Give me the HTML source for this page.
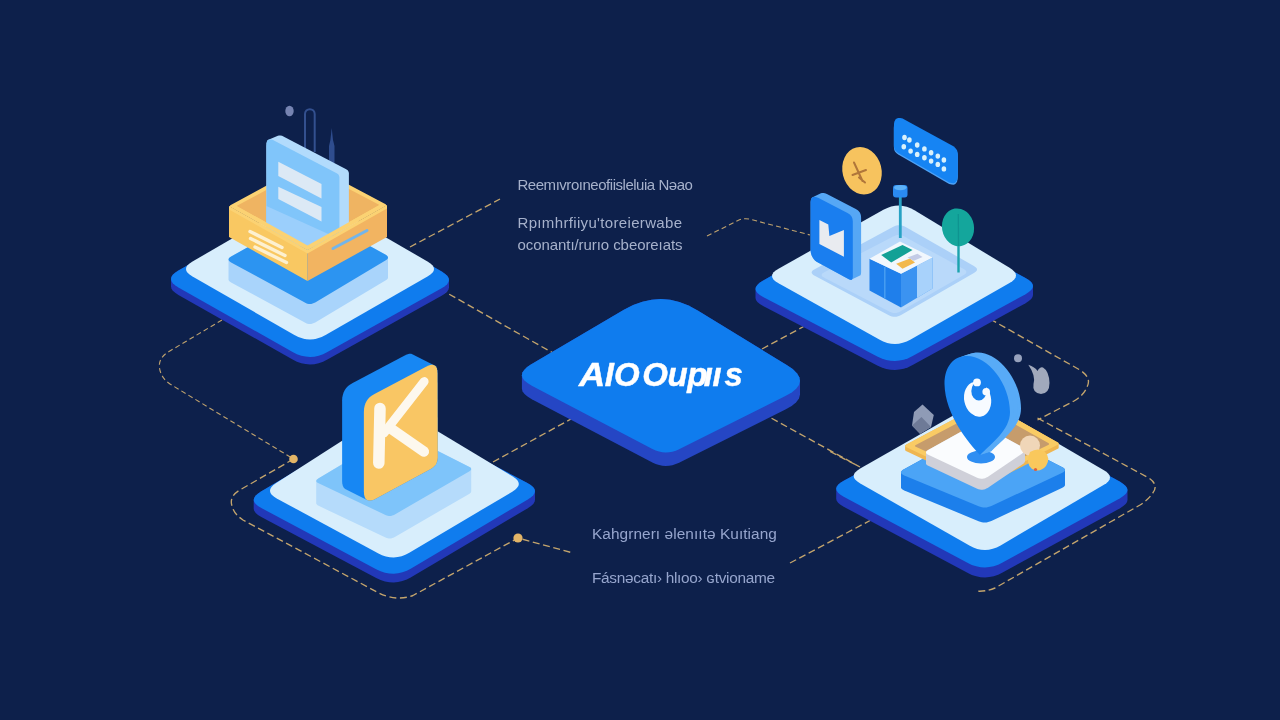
<!DOCTYPE html>
<html><head><meta charset="utf-8"><title>AIO Diagram</title>
<style>
html,body{margin:0;padding:0;background:#0d204b;}
body{width:1280px;height:720px;overflow:hidden;position:relative;font-family:"Liberation Sans",sans-serif;}
svg{position:absolute;left:0;top:0;display:block;filter:blur(0.45px)}
.t{filter:blur(0.35px)}
.t{position:absolute;white-space:nowrap;line-height:1;font-family:"Liberation Sans",sans-serif;}
.lab{font-size:15px;color:#a6b1cb;letter-spacing:-0.2px}
.lab2{font-size:15.4px;color:#96a5cd;letter-spacing:-0.2px}
.ttl{font-size:33px;font-weight:bold;font-style:italic;color:#ffffff;letter-spacing:-0.2px;-webkit-text-stroke:0.45px #ffffff}
</style></head><body>
<svg width="1280" height="720" viewBox="0 0 1280 720">
<rect width="1280" height="720" fill="#0d204b"/>
<path d="M410,247 L500,199" fill="none" stroke="#c4a56d" stroke-width="1.35" stroke-dasharray="7 3.6" stroke-linecap="butt"/>
<path d="M440,289 L553,353" fill="none" stroke="#c4a56d" stroke-width="1.35" stroke-dasharray="7 3.6" stroke-linecap="butt"/>
<path d="M222,320 L169,351.5 Q158,358 159.5,368 Q161,378 170,384 L293.5,459" fill="none" stroke="#bfa26e" stroke-width="1.1" stroke-dasharray="5 3.2"/>
<path d="M293.5,459 L239,490.5 Q229,497 232,506 Q234,514 243,520 L377,592 Q395,602 413,595.5 L518,538 L573,553" fill="none" stroke="#c4a56d" stroke-width="1.35" stroke-dasharray="7 3.6" stroke-linecap="butt"/>
<path d="M493,462 L571,419" fill="none" stroke="#c4a56d" stroke-width="1.35" stroke-dasharray="7 3.6" stroke-linecap="butt"/>
<path d="M762,349 L812,322" fill="none" stroke="#c4a56d" stroke-width="1.35" stroke-dasharray="7 3.6" stroke-linecap="butt"/>
<path d="M707,236 L738,220.5 Q744,217.5 751,219.5 L810,235" fill="none" stroke="#bfa26e" stroke-width="1.1" stroke-dasharray="5 3.2"/>
<path d="M753,408 L860,467" fill="none" stroke="#c4a56d" stroke-width="1.35" stroke-dasharray="7 3.6" stroke-linecap="butt"/>
<path d="M871,520 L790,563" fill="none" stroke="#c4a56d" stroke-width="1.35" stroke-dasharray="7 3.6" stroke-linecap="butt"/>
<path d="M990,319 L1080,370 Q1092,378 1087,387 Q1084,395 1074,401 L1037.5,420" fill="none" stroke="#c4a56d" stroke-width="1.35" stroke-dasharray="7 3.6" stroke-linecap="butt"/>
<path d="M1037.5,418 L1148,477.5 Q1160,485 1152,494 Q1148,500 1140,505 L995,588 Q985,592 976,591" fill="none" stroke="#c4a56d" stroke-width="1.35" stroke-dasharray="7 3.6" stroke-linecap="butt"/>
<path d="M830,451.5 L858,466" fill="none" stroke="#c4a56d" stroke-width="1.35" stroke-dasharray="7 3.6" stroke-linecap="butt"/>
<circle cx="293.5" cy="459" r="4.3" fill="#e3b567"/>
<circle cx="518" cy="538" r="4.6" fill="#e3b567"/>
<polygon points="171.0,279.0 171.4,276.9 172.8,274.8 175.1,272.7 178.4,270.6 292.6,205.9 297.0,203.8 301.3,202.2 305.6,201.3 310.0,201.0 314.3,201.4 318.7,202.3 323.0,203.8 327.4,206.0 441.7,271.6 444.9,273.7 447.2,275.8 448.6,277.9 449.0,280.0 449.0,287.5 448.5,289.6 447.1,291.7 444.8,293.8 441.6,295.8 327.4,359.6 323.1,361.8 318.7,363.3 314.4,364.2 310.0,364.5 305.6,364.1 301.3,363.2 296.9,361.7 292.6,359.5 178.4,294.9 175.2,292.8 172.8,290.7 171.4,288.6 171.0,286.5" fill="#2238b8" />
<polygon points="178.4,287.4 175.1,285.3 172.8,283.2 171.4,281.1 171.0,279.0 171.4,276.9 172.8,274.8 175.1,272.7 178.4,270.6 292.6,205.9 297.0,203.8 301.3,202.2 305.7,201.3 310.0,201.0 314.3,201.4 318.7,202.3 323.0,203.9 327.4,206.0 441.7,271.6 444.9,273.7 447.2,275.8 448.6,277.9 449.0,280.0 448.5,282.1 447.1,284.2 444.8,286.3 441.6,288.3 327.4,352.1 323.1,354.2 318.7,355.8 314.4,356.7 310.0,357.0 305.6,356.6 301.3,355.7 296.9,354.2 292.6,352.0" fill="#0f7cee" />
<polygon points="192.5,276.5 189.6,274.6 187.6,272.7 186.4,270.9 186.0,269.0 186.4,267.1 187.6,265.3 189.6,263.4 192.5,261.5 294.4,202.5 298.3,200.6 302.2,199.2 306.1,198.3 310.0,198.0 313.9,198.3 317.8,199.2 321.7,200.6 325.6,202.5 427.5,261.5 430.4,263.4 432.4,265.3 433.6,267.1 434.0,269.0 433.6,270.9 432.4,272.7 430.4,274.6 427.5,276.5 325.6,335.0 321.7,336.9 317.8,338.3 313.9,339.2 310.0,339.5 306.1,339.2 302.2,338.3 298.3,336.9 294.4,335.0" fill="#d8eefc" />
<polygon points="228.5,259.5 228.7,258.8 229.1,258.0 230.0,257.3 231.1,256.6 303.8,215.5 305.1,214.8 306.4,214.4 307.7,214.1 309.0,214.0 310.3,214.1 311.6,214.3 312.9,214.8 314.2,215.4 385.4,254.6 386.5,255.3 387.3,256.0 387.8,256.8 388.0,257.5 388.0,277.5 387.9,278.2 387.4,279.0 386.6,279.8 385.4,280.5 315.2,322.4 313.9,323.1 312.6,323.6 311.3,323.9 310.0,324.0 308.7,323.9 307.4,323.7 306.1,323.2 304.8,322.6 231.1,282.4 230.0,281.7 229.2,280.9 228.7,280.2 228.5,279.5" fill="#a9d4fb" />
<polygon points="231.1,262.4 230.0,261.7 229.2,261.0 228.7,260.2 228.5,259.5 228.7,258.8 229.1,258.0 230.0,257.3 231.1,256.6 303.8,215.5 305.1,214.8 306.4,214.4 307.7,214.1 309.0,214.0 310.3,214.1 311.6,214.4 312.9,214.8 314.2,215.4 385.3,254.6 386.5,255.3 387.3,256.0 387.8,256.8 388.0,257.5 387.9,258.2 387.4,259.0 386.6,259.8 385.4,260.5 315.2,302.4 313.9,303.1 312.6,303.6 311.3,303.9 310.0,304.0 308.7,303.9 307.4,303.7 306.1,303.2 304.8,302.6" fill="#2c94f1" />
<ellipse cx="289.5" cy="111" rx="4.2" ry="5.3" fill="#7684b2"/>
<path d="M305,152 V114 a4.85,4.85 0 0 1 9.7,0 V152" fill="none" stroke="#33508f" stroke-width="2"/>
<path d="M331.7,128 L333,140 L334.5,146 L334.5,163 L329,163 L329,146 L330.4,140 Z" fill="#2f4d8e"/>
<polygon points="230.7,207.0 230.4,206.7 230.1,206.5 229.9,206.2 229.9,206.0 229.9,205.8 230.1,205.5 230.4,205.3 230.8,205.0 306.2,164.0 306.7,163.7 307.1,163.6 307.6,163.5 308.0,163.5 308.4,163.5 308.9,163.6 309.3,163.7 309.8,163.9 385.2,204.1 385.6,204.3 385.9,204.5 386.1,204.8 386.1,205.0 386.1,205.3 385.9,205.5 385.6,205.7 385.3,206.0 309.2,249.0 308.8,249.2 308.4,249.4 307.9,249.5 307.5,249.5 307.1,249.5 306.6,249.4 306.2,249.2 305.8,249.0" fill="#fbd273" />
<polygon points="237.4,206.5 237.2,206.4 237.0,206.2 237.0,206.1 236.9,206.0 237.0,205.9 237.0,205.8 237.2,205.6 237.4,205.5 307.1,168.0 307.3,167.9 307.6,167.8 307.8,167.8 308.0,167.7 308.2,167.7 308.4,167.8 308.7,167.9 308.9,168.0 378.6,204.5 378.8,204.7 378.9,204.8 379.0,204.9 379.1,205.0 379.0,205.1 379.0,205.2 378.8,205.4 378.6,205.5 308.4,245.0 308.2,245.1 307.9,245.2 307.7,245.2 307.5,245.3 307.3,245.2 307.1,245.2 306.8,245.1 306.6,245.0" fill="#efb462" />
<polygon points="266.4,145.5 266.5,143.5 266.9,141.8 267.5,140.6 268.4,139.8 277.9,135.8 279.0,135.4 280.4,135.4 282.0,135.8 283.9,136.7 346.2,169.3 346.9,169.7 347.4,170.1 347.9,170.6 348.2,171.1 348.5,171.7 348.7,172.3 348.9,173.0 348.9,173.7 348.9,236.0 339.4,240.0 307.5,248.0 266.4,236.0" fill="#b2dbfc" />
<polygon points="266.4,145.5 266.5,143.5 266.9,141.8 267.5,140.6 268.4,139.8 269.5,139.4 270.9,139.4 272.5,139.8 274.4,140.7 336.7,173.3 337.4,173.7 337.9,174.1 338.4,174.6 338.7,175.1 339.0,175.7 339.2,176.3 339.4,177.0 339.4,177.7 339.4,240.0 307.5,248.0 266.4,236.0" fill="#80c5fa" />
<polygon points="266.4,206.0 339.4,239.0 339.4,240.0 307.5,248.0 266.4,236.0" fill="#9bcffc" />
<polygon points="278.3,161.7 321.5,184.0 321.5,198.5 278.3,176.0" fill="#dce9f5" />
<polygon points="278.3,186.7 321.5,207.0 321.5,221.5 278.3,199.0" fill="#dce9f5" />
<polygon points="229.0,206.0 307.5,250.0 387.0,205.0 379.5,205.0 307.5,245.5 236.5,206.0" fill="#fbd273" />
<polygon points="229.0,206.5 307.5,250.5 307.5,281.0 229.0,237.0" fill="#f9c862" />
<polygon points="307.5,250.5 387.0,205.5 387.0,237.0 307.5,281.0" fill="#f2b461" />
<polygon points="229.0,206.0 307.5,250.0 387.0,205.0 387.0,208.5 307.5,253.5 229.0,209.5" fill="#fbd273" />
<line x1="250" y1="231.5" x2="282" y2="247.5" stroke="#fdf0d0" stroke-width="3.4" stroke-linecap="round"/>
<line x1="250.5" y1="238.5" x2="285" y2="255.5" stroke="#fdf0d0" stroke-width="3.4" stroke-linecap="round"/>
<line x1="255" y1="247" x2="286.5" y2="262.5" stroke="#fdf0d0" stroke-width="3.4" stroke-linecap="round"/>
<line x1="333" y1="248.5" x2="367" y2="230.5" stroke="#73b5ea" stroke-width="3" stroke-linecap="round"/>
<polygon points="755.5,289.0 755.9,287.0 757.3,284.9 759.6,282.8 762.8,280.7 876.6,216.1 880.9,213.9 885.3,212.3 889.6,211.4 894.0,211.0 898.4,211.3 902.8,212.2 907.1,213.7 911.5,215.7 1025.5,277.9 1028.8,279.9 1031.2,281.9 1032.5,284.0 1033.0,286.0 1033.0,295.0 1032.5,297.0 1031.2,299.1 1028.8,301.1 1025.6,303.2 912.6,365.1 908.2,367.2 903.8,368.7 899.4,369.6 895.0,370.0 890.6,369.7 886.2,368.9 881.7,367.5 877.3,365.4 763.1,306.0 759.8,304.0 757.4,302.0 756.0,300.0 755.5,298.0" fill="#2238b8" />
<polygon points="763.1,297.0 759.8,295.0 757.4,293.0 756.0,291.0 755.5,289.0 755.9,287.0 757.3,284.9 759.6,282.8 762.8,280.7 876.6,216.1 880.9,213.9 885.3,212.3 889.6,211.4 894.0,211.0 898.4,211.3 902.7,212.2 907.1,213.7 911.5,215.7 1025.5,277.9 1028.8,279.9 1031.1,281.9 1032.5,284.0 1033.0,286.0 1032.6,288.0 1031.2,290.1 1028.8,292.1 1025.6,294.2 912.6,356.1 908.2,358.2 903.8,359.7 899.4,360.6 895.0,361.0 890.6,360.7 886.2,359.9 881.7,358.5 877.3,356.4" fill="#0f7cee" />
<polygon points="778.5,283.3 775.7,281.5 773.6,279.7 772.4,277.8 772.0,276.0 772.4,274.2 773.6,272.3 775.7,270.5 778.5,268.7 883.4,209.8 887.3,207.9 891.2,206.5 895.1,205.8 899.0,205.5 902.9,205.9 906.8,206.8 910.6,208.3 914.5,210.3 1009.6,267.8 1012.4,269.8 1014.4,271.7 1015.6,273.6 1016.0,275.5 1015.6,277.4 1014.4,279.3 1012.3,281.2 1009.5,283.0 910.7,339.5 906.7,341.4 902.8,342.8 898.9,343.7 895.0,344.0 891.1,343.7 887.2,342.9 883.2,341.5 879.3,339.6" fill="#d8eefc" />
<polygon points="814.7,275.8 813.3,275.0 812.4,274.1 811.8,273.3 811.6,272.5 811.8,271.7 812.4,270.8 813.3,270.0 814.7,269.2 893.3,226.8 894.9,226.1 896.4,225.6 897.9,225.3 899.5,225.2 901.0,225.3 902.5,225.7 904.1,226.2 905.6,227.0 973.9,266.0 975.3,266.9 976.2,267.8 976.8,268.6 977.0,269.5 976.8,270.4 976.2,271.2 975.3,272.1 973.9,273.0 901.1,315.0 899.5,315.8 898.0,316.3 896.5,316.7 895.0,316.8 893.4,316.7 891.9,316.4 890.4,315.9 888.8,315.2" fill="#abd0f8" />
<polygon points="824.3,277.8 823.2,277.1 822.3,276.4 821.8,275.7 821.7,275.0 821.8,274.3 822.3,273.6 823.2,272.9 824.3,272.2 893.7,236.3 895.0,235.7 896.3,235.2 897.7,235.0 899.0,234.9 900.3,235.0 901.6,235.3 902.9,235.8 904.3,236.4 963.7,269.1 964.9,269.8 965.7,270.6 966.2,271.3 966.4,272.0 966.2,272.8 965.7,273.5 964.9,274.2 963.8,275.0 900.2,311.5 898.9,312.2 897.6,312.6 896.3,312.9 895.0,313.1 893.7,313.0 892.3,312.8 891.0,312.3 889.7,311.7" fill="#b9d9fa" />
<polygon points="893.9,128.1 894.1,125.2 894.6,122.8 895.5,121.1 896.7,119.9 898.4,119.4 900.3,119.4 902.6,120.1 905.3,121.4 952.5,147.3 953.8,148.1 954.8,149.0 955.7,149.9 956.5,151.0 957.1,152.1 957.5,153.4 957.7,154.7 957.8,156.2 957.8,176.1 957.6,179.0 957.1,181.4 956.2,183.1 955.0,184.2 953.4,184.7 951.5,184.6 949.2,183.9 946.6,182.6 898.2,154.5 897.2,153.8 896.3,153.1 895.6,152.3 895.0,151.4 894.5,150.4 894.2,149.3 894.0,148.2 893.9,147.0" fill="#4ea2f6" />
<polygon points="893.9,126.6 894.1,123.7 894.6,121.3 895.5,119.6 896.7,118.4 898.4,117.9 900.3,117.9 902.6,118.6 905.3,119.9 952.5,145.8 953.8,146.6 954.8,147.5 955.7,148.4 956.5,149.5 957.1,150.6 957.5,151.9 957.7,153.2 957.8,154.7 957.8,174.6 957.6,177.5 957.1,179.9 956.2,181.6 955.0,182.7 953.4,183.2 951.5,183.1 949.2,182.4 946.6,181.1 898.2,153.0 897.2,152.3 896.3,151.6 895.6,150.8 895.0,149.9 894.5,148.9 894.2,147.8 894.0,146.7 893.9,145.5" fill="#1684f3" />
<ellipse cx="909.4" cy="140.0" rx="2.3" ry="2.7" fill="#d9f1fb"/>
<ellipse cx="917.2" cy="145.0" rx="2.3" ry="2.7" fill="#d9f1fb"/>
<ellipse cx="924.4" cy="148.9" rx="2.3" ry="2.7" fill="#d9f1fb"/>
<ellipse cx="931.1" cy="152.8" rx="2.3" ry="2.7" fill="#d9f1fb"/>
<ellipse cx="937.8" cy="156.1" rx="2.3" ry="2.7" fill="#d9f1fb"/>
<ellipse cx="943.9" cy="160.0" rx="2.3" ry="2.7" fill="#d9f1fb"/>
<ellipse cx="904.5" cy="137.5" rx="2.3" ry="2.7" fill="#d9f1fb"/>
<ellipse cx="903.8" cy="146.7" rx="2.3" ry="2.7" fill="#d9f1fb"/>
<ellipse cx="910.6" cy="151.1" rx="2.3" ry="2.7" fill="#d9f1fb"/>
<ellipse cx="917.2" cy="154.4" rx="2.3" ry="2.7" fill="#d9f1fb"/>
<ellipse cx="924.4" cy="157.8" rx="2.3" ry="2.7" fill="#d9f1fb"/>
<ellipse cx="931.1" cy="161.1" rx="2.3" ry="2.7" fill="#d9f1fb"/>
<ellipse cx="937.8" cy="164.4" rx="2.3" ry="2.7" fill="#d9f1fb"/>
<ellipse cx="943.9" cy="168.9" rx="2.3" ry="2.7" fill="#d9f1fb"/>
<ellipse cx="862" cy="170.8" rx="19.5" ry="24" transform="rotate(-14 862 170.8)" fill="#f7c35e"/>
<path d="M854,162.5 L862.5,181 M852.5,175 L866,170 M859,177.5 L865,182.5" stroke="#b0763a" stroke-width="2" stroke-linecap="round" fill="none"/>
<rect x="898.9" y="195" width="2.8" height="43" fill="#27a2c4"/>
<rect x="893" y="185" width="14.5" height="12.5" rx="3" fill="#2a8af1"/>
<ellipse cx="900.3" cy="187.6" rx="6.3" ry="2.6" fill="#5db2f8"/>
<polygon points="810.6,203.0 810.7,201.0 811.1,199.3 811.7,198.1 812.6,197.3 820.9,193.3 822.0,192.9 823.4,192.9 825.0,193.3 826.9,194.1 855.8,209.1 857.0,209.8 858.1,210.6 859.0,211.6 859.8,212.6 860.4,213.8 860.8,215.0 861.0,216.3 861.1,217.8 861.1,272.5 861.0,273.6 860.8,274.5 860.5,275.2 860.0,275.6 851.7,279.6 851.1,279.9 850.3,279.8 849.4,279.6 848.4,279.1 818.5,262.8 816.6,261.7 815.0,260.4 813.7,258.9 812.6,257.3 811.7,255.6 811.1,253.7 810.7,251.7 810.6,249.5" fill="#56a7f5" />
<polygon points="810.6,203.0 810.7,201.0 811.1,199.3 811.7,198.1 812.6,197.3 813.7,196.9 815.1,196.9 816.7,197.3 818.6,198.1 847.5,213.0 848.7,213.8 849.8,214.6 850.7,215.6 851.5,216.6 852.1,217.8 852.5,219.0 852.7,220.4 852.8,221.8 852.8,276.5 852.7,277.6 852.5,278.5 852.2,279.2 851.7,279.7 851.1,279.9 850.3,279.8 849.4,279.6 848.4,279.1 818.5,262.8 816.7,261.7 815.0,260.4 813.7,258.9 812.6,257.3 811.7,255.6 811.1,253.7 810.7,251.7 810.6,249.5" fill="#1a7eef" />
<polygon points="819.4,220.0 828.3,224.4 829.4,236.1 843.9,230.0 843.9,256.7 819.4,243.9" fill="#e9ebf0" />
<line x1="958.5" y1="225" x2="958.5" y2="272.5" stroke="#1ba3ad" stroke-width="2.4"/>
<ellipse cx="958" cy="227.3" rx="16" ry="19" transform="rotate(-10 958 227.3)" fill="#14a69c"/>
<line x1="958.3" y1="214" x2="958.5" y2="246" stroke="#0e9490" stroke-width="1.3"/>
<polygon points="869.5,258.8 901.0,273.8 901.0,307.5 869.5,290.5" fill="#1f7feb" />
<polygon points="901.0,273.8 932.5,257.5 932.5,288.5 901.0,307.5" fill="#3b93f1" />
<polygon points="917.0,265.5 932.5,257.5 932.5,288.5 917.0,298.0" fill="#a8d2fb" />
<line x1="884.8" y1="267" x2="884.8" y2="298.5" stroke="#4aa0f2" stroke-width="1.4"/>
<polygon points="869.5,258.8 900.0,241.5 932.5,257.5 901.0,273.8" fill="#f1f7fd" />
<polygon points="881.2,255.0 902.5,245.0 912.5,250.0 891.2,262.5" fill="#13a196" />
<polygon points="896.2,263.8 910.0,258.5 915.0,262.5 902.5,268.8" fill="#f2b84c" />
<polygon points="907.5,257.5 917.5,253.8 922.5,257.0 913.8,260.8" fill="#c3cbe6" />
<polygon points="253.7,500.0 254.2,497.9 255.5,495.8 257.8,493.7 261.0,491.5 376.6,423.3 381.0,421.1 385.3,419.5 389.6,418.4 394.0,418.0 398.4,418.2 402.8,419.0 407.2,420.4 411.6,422.4 527.4,482.9 530.7,484.9 533.0,486.9 534.5,488.9 535.0,491.0 535.0,499.8 534.6,501.8 533.3,503.9 531.0,506.1 527.8,508.2 411.1,577.2 406.8,579.4 402.4,581.0 398.1,582.1 393.8,582.5 389.4,582.3 385.0,581.4 380.6,580.0 376.2,578.0 261.3,516.9 258.0,514.9 255.7,512.9 254.2,510.8 253.7,508.8" fill="#2238b8" />
<polygon points="261.3,508.1 258.0,506.1 255.7,504.1 254.2,502.1 253.7,500.0 254.2,497.9 255.5,495.8 257.8,493.7 261.0,491.5 376.6,423.3 381.0,421.1 385.3,419.5 389.6,418.4 394.0,418.0 398.4,418.2 402.8,419.0 407.2,420.4 411.6,422.4 527.4,482.9 530.7,484.9 533.1,486.9 534.5,488.9 535.0,491.0 534.6,493.1 533.3,495.2 531.0,497.3 527.8,499.5 411.1,568.4 406.8,570.7 402.4,572.3 398.1,573.3 393.7,573.7 389.4,573.5 385.0,572.7 380.6,571.3 376.2,569.2" fill="#0f7cee" />
<polygon points="276.7,498.4 273.8,496.6 271.7,494.8 270.5,492.9 270.0,491.0 270.3,489.1 271.5,487.1 273.4,485.1 276.2,483.1 380.8,416.0 384.6,413.9 388.4,412.3 392.2,411.4 396.0,411.0 399.8,411.3 403.7,412.1 407.5,413.5 411.4,415.6 512.4,476.3 515.2,478.2 517.2,480.1 518.4,482.1 518.8,484.0 518.4,485.9 517.1,487.8 515.1,489.8 512.3,491.7 409.3,552.7 405.4,554.7 401.6,556.2 397.7,557.1 393.7,557.5 389.8,557.3 385.9,556.5 382.0,555.2 378.0,553.3" fill="#d8eefc" />
<polygon points="316.2,481.0 316.4,480.4 316.7,479.8 317.4,479.2 318.3,478.5 393.7,433.4 394.7,432.8 395.8,432.4 396.9,432.1 398.0,432.0 399.1,432.0 400.2,432.2 401.3,432.6 402.4,433.1 469.0,466.7 470.0,467.2 470.7,467.8 471.1,468.4 471.2,469.0 471.2,491.5 471.1,492.1 470.7,492.7 470.1,493.3 469.1,493.9 394.4,537.2 393.3,537.7 392.2,538.1 391.1,538.4 390.0,538.5 388.9,538.5 387.8,538.3 386.7,538.0 385.5,537.5 318.6,505.8 317.6,505.2 316.9,504.6 316.4,504.1 316.2,503.5" fill="#b5dbfb" />
<polygon points="318.6,483.2 317.6,482.7 316.9,482.2 316.4,481.6 316.2,481.0 316.4,480.4 316.7,479.8 317.4,479.2 318.3,478.5 393.7,433.4 394.7,432.8 395.8,432.4 396.9,432.1 398.0,432.0 399.1,432.0 400.2,432.2 401.3,432.6 402.4,433.0 469.0,466.7 470.0,467.3 470.7,467.8 471.1,468.4 471.2,469.0 471.1,469.6 470.7,470.2 470.1,470.8 469.1,471.4 394.4,514.7 393.3,515.2 392.2,515.6 391.1,515.9 390.0,516.0 388.9,516.0 387.8,515.8 386.7,515.5 385.5,515.0" fill="#7ec4fa" />
<polygon points="342.1,400.5 342.3,397.6 342.8,394.9 343.6,392.4 344.8,390.1 346.2,388.0 348.1,386.1 350.2,384.4 352.7,382.9 404.2,355.7 406.9,354.4 409.2,353.8 411.2,353.8 412.8,354.4 434.6,365.4 435.9,366.5 436.8,368.3 437.4,370.6 437.5,373.6 437.8,457.2 437.7,459.1 437.4,460.9 436.8,462.6 436.0,464.1 435.1,465.6 433.8,466.8 432.4,468.0 430.8,469.0 376.2,498.5 373.3,499.9 370.8,500.6 368.7,500.6 367.0,500.0 345.2,489.0 343.8,487.8 342.9,485.9 342.3,483.4 342.1,480.2" fill="#1787f3" />
<polygon points="363.9,411.5 364.1,408.6 364.6,405.9 365.4,403.4 366.6,401.1 368.0,399.0 369.9,397.1 372.0,395.4 374.5,393.9 426.0,366.7 428.7,365.5 431.0,364.8 433.0,364.8 434.6,365.4 435.9,366.5 436.8,368.3 437.3,370.6 437.5,373.6 437.8,457.2 437.7,459.1 437.3,460.9 436.8,462.6 436.0,464.2 435.0,465.6 433.8,466.8 432.4,468.0 430.8,469.0 376.2,498.5 373.3,499.9 370.8,500.6 368.7,500.6 367.0,500.0 365.6,498.8 364.7,496.9 364.1,494.4 363.9,491.2" fill="#f9c664" />
<g stroke="#fdf8ee" stroke-linecap="round" fill="none"><path d="M380,408.5 L378.8,463" stroke-width="11.5"/><path d="M384,433 L424.2,381.5" stroke-width="8.8"/><path d="M390,428 L423.8,451.5" stroke-width="10.5"/></g>
<polygon points="836.2,488.8 836.7,486.7 838.1,484.7 840.4,482.7 843.7,480.7 964.4,415.7 968.8,413.7 973.2,412.2 977.6,411.3 982.0,411.0 986.4,411.4 990.8,412.3 995.2,413.8 999.6,415.9 1120.1,481.8 1123.3,483.9 1125.7,485.9 1127.0,488.0 1127.5,490.0 1127.5,500.0 1127.0,502.0 1125.7,504.1 1123.3,506.1 1120.1,508.2 1002.6,572.6 998.2,574.7 993.8,576.2 989.4,577.1 985.0,577.5 980.6,577.2 976.2,576.3 971.8,574.9 967.4,572.8 843.7,506.8 840.5,504.8 838.1,502.8 836.7,500.8 836.2,498.8" fill="#2238b8" />
<polygon points="843.7,496.8 840.5,494.8 838.1,492.8 836.7,490.8 836.2,488.7 836.7,486.7 838.1,484.7 840.4,482.7 843.7,480.7 964.4,415.7 968.8,413.7 973.2,412.2 977.6,411.3 982.0,411.0 986.4,411.3 990.8,412.3 995.2,413.8 999.6,415.9 1120.1,481.8 1123.3,483.9 1125.6,485.9 1127.0,488.0 1127.5,490.0 1127.0,492.0 1125.7,494.1 1123.3,496.1 1120.1,498.2 1002.6,562.6 998.2,564.7 993.8,566.2 989.4,567.1 985.0,567.5 980.6,567.2 976.2,566.3 971.8,564.9 967.4,562.8" fill="#0f7cee" />
<polygon points="860.3,483.4 857.4,481.6 855.4,479.7 854.1,477.9 853.7,476.0 854.1,474.1 855.4,472.3 857.4,470.4 860.2,468.6 966.4,408.0 970.3,406.0 974.2,404.6 978.1,403.8 982.0,403.5 985.9,403.8 989.8,404.7 993.7,406.1 997.6,408.1 1103.5,469.9 1106.4,471.8 1108.4,473.7 1109.6,475.6 1110.0,477.5 1109.6,479.4 1108.4,481.3 1106.4,483.2 1103.5,485.1 1000.6,545.4 996.7,547.4 992.8,548.8 988.9,549.7 985.0,550.0 981.1,549.7 977.2,548.9 973.3,547.5 969.4,545.6" fill="#d8eefc" />
<polygon points="901.0,472.5 901.2,471.7 901.7,470.9 902.6,470.1 904.0,469.3 975.8,429.7 977.4,429.0 978.9,428.5 980.5,428.1 982.0,428.0 983.5,428.1 985.1,428.4 986.7,428.8 988.2,429.5 1061.9,466.9 1063.3,467.7 1064.2,468.4 1064.8,469.2 1065.0,470.0 1065.0,485.0 1064.8,485.8 1064.2,486.5 1063.2,487.3 1061.8,488.0 991.4,521.0 989.8,521.6 988.2,522.1 986.6,522.4 985.0,522.5 983.4,522.5 981.8,522.2 980.2,521.8 978.6,521.2 904.3,490.4 902.9,489.7 901.9,489.0 901.2,488.2 901.0,487.5" fill="#1c7feb" />
<polygon points="904.3,475.4 902.9,474.7 901.9,474.0 901.2,473.2 901.0,472.5 901.2,471.7 901.7,470.9 902.6,470.1 904.0,469.3 975.8,429.7 977.4,429.0 978.9,428.5 980.5,428.1 982.0,428.0 983.5,428.1 985.1,428.4 986.7,428.8 988.2,429.5 1061.9,466.9 1063.3,467.7 1064.2,468.5 1064.8,469.2 1065.0,470.0 1064.8,470.8 1064.2,471.5 1063.2,472.3 1061.8,473.0 991.4,506.0 989.8,506.6 988.2,507.1 986.6,507.4 985.0,507.5 983.4,507.4 981.8,507.2 980.2,506.8 978.6,506.2" fill="#4ba4f6" />
<polygon points="905.1,446.0 905.2,445.6 905.4,445.3 905.8,444.9 906.4,444.6 983.4,403.4 984.0,403.1 984.7,402.9 985.3,402.8 986.0,402.7 986.6,402.8 987.3,402.9 988.0,403.1 988.6,403.5 1057.4,442.3 1058.0,442.6 1058.4,443.0 1058.6,443.4 1058.7,443.7 1058.7,447.7 1058.6,448.1 1058.3,448.4 1057.9,448.8 1057.3,449.1 984.7,485.6 984.0,485.9 983.3,486.2 982.7,486.3 982.0,486.3 981.3,486.3 980.6,486.2 980.0,486.0 979.3,485.7 906.5,451.3 905.9,451.0 905.4,450.6 905.2,450.3 905.1,450.0" fill="#efb650" />
<polygon points="906.5,447.3 905.9,447.0 905.4,446.6 905.2,446.3 905.1,446.0 905.2,445.6 905.4,445.3 905.8,444.9 906.4,444.6 983.4,403.4 984.0,403.1 984.7,402.9 985.3,402.8 986.0,402.7 986.6,402.8 987.3,402.9 988.0,403.2 988.6,403.5 1057.4,442.3 1058.0,442.6 1058.4,443.0 1058.6,443.4 1058.7,443.7 1058.6,444.1 1058.3,444.4 1057.9,444.8 1057.3,445.1 984.7,481.7 984.0,481.9 983.3,482.2 982.7,482.3 982.0,482.3 981.3,482.3 980.6,482.2 980.0,482.0 979.3,481.7" fill="#f9cb64" />
<polygon points="915.8,446.8 915.4,446.6 915.1,446.4 915.0,446.2 914.9,446.0 914.9,445.8 915.1,445.5 915.4,445.3 915.8,445.1 984.2,408.9 984.7,408.7 985.1,408.6 985.6,408.5 986.0,408.5 986.4,408.5 986.9,408.6 987.3,408.8 987.7,409.0 1048.3,443.0 1048.6,443.3 1048.9,443.5 1049.1,443.7 1049.1,444.0 1049.1,444.2 1048.9,444.4 1048.6,444.7 1048.2,444.9 983.8,476.1 983.3,476.3 982.9,476.5 982.4,476.5 982.0,476.6 981.5,476.6 981.1,476.5 980.6,476.4 980.2,476.2" fill="#c69c6c" />
<polygon points="926.0,452.5 926.1,451.8 926.6,451.1 927.4,450.4 928.6,449.7 972.2,425.5 973.6,424.8 974.9,424.4 976.2,424.1 977.5,424.0 978.8,424.1 980.1,424.4 981.5,424.8 982.8,425.4 1022.3,447.0 1023.5,447.7 1024.3,448.5 1024.8,449.2 1025.0,450.0 1025.0,461.0 1024.9,461.8 1024.4,462.6 1023.7,463.4 1022.6,464.2 987.6,487.9 986.3,488.6 985.1,489.2 983.8,489.6 982.5,489.8 981.2,489.8 979.9,489.6 978.5,489.2 977.2,488.7 928.8,466.1 927.6,465.5 926.7,464.8 926.2,464.2 926.0,463.5" fill="#cfd0d9" />
<polygon points="928.8,455.1 927.6,454.5 926.7,453.8 926.2,453.2 926.0,452.5 926.1,451.8 926.6,451.1 927.4,450.4 928.6,449.7 972.2,425.5 973.6,424.8 974.9,424.4 976.2,424.1 977.5,424.0 978.8,424.1 980.1,424.4 981.4,424.8 982.8,425.4 1022.3,447.0 1023.4,447.7 1024.3,448.5 1024.8,449.2 1025.0,450.0 1024.9,450.8 1024.4,451.6 1023.7,452.4 1022.6,453.2 987.6,476.9 986.3,477.6 985.1,478.2 983.8,478.6 982.5,478.7 981.2,478.8 979.9,478.6 978.5,478.2 977.2,477.7" fill="#fafcfe" />
<polygon points="922.5,404.5 933.8,415.0 931.0,427.0 920.0,433.8 912.0,425.5 914.0,412.0" fill="#8f9bb6" />
<polygon points="921.5,417.0 931.0,427.0 920.0,433.8 912.0,425.5" fill="#6e7a97" />
<path d="M1028.3,364.8 Q1035,367 1037.5,371 Q1040,366.5 1043,367.5 Q1049,371 1049.5,383 Q1049.5,393.5 1041,394 Q1032,393 1033.5,384 Q1036,376 1028.3,364.8 Z" fill="#a1a9bc"/>
<circle cx="1018" cy="358.3" r="4" fill="#97a2bd"/>
<circle cx="1030" cy="445.5" r="10" fill="#f0d6b8"/>
<path d="M1030,452 Q1038,447 1045,452 Q1051,458 1046,466 Q1040,473 1032,469 Q1025,463 1030,452 Z" fill="#f9c85c"/>
<circle cx="1035.5" cy="469.5" r="1.6" fill="#e0603a"/>
<ellipse cx="981" cy="457" rx="14" ry="6.5" fill="#2f8ef2"/>
<g fill="#58abf7"><path d="M980,455 C969,443 945,415 944.5,384 C944.5,366 954,356 967,356 C988,356 1010,384 1010,412 C1010,430 992,443 980,455 Z" transform="translate(11,-3.5)"/><path d="M980,455 C969,443 945,415 944.5,384 C944.5,366 954,356 967,356 C988,356 1010,384 1010,412 C1010,430 992,443 980,455 Z" transform="translate(7.5,-2.4)"/><path d="M980,455 C969,443 945,415 944.5,384 C944.5,366 954,356 967,356 C988,356 1010,384 1010,412 C1010,430 992,443 980,455 Z" transform="translate(4,-1.2)"/><path d="M980,455 L991,451.5 L1012,420 L990,440 Z"/></g>
<path d="M980,455 C969,443 945,415 944.5,384 C944.5,366 954,356 967,356 C988,356 1010,384 1010,412 C1010,430 992,443 980,455 Z" fill="#1882f0"/>
<ellipse cx="977.6" cy="399.2" rx="13.4" ry="17.6" transform="rotate(-12 977.6 399.2)" fill="#f7fbff"/>
<ellipse cx="978.9" cy="391" rx="7.6" ry="9.6" fill="#1882f0"/><circle cx="982.8" cy="384.8" r="4.6" fill="#1882f0"/>
<circle cx="977" cy="382.4" r="3.9" fill="#f7fbff"/><circle cx="986.2" cy="391.8" r="3.8" fill="#f7fbff"/>
<polygon points="521.9,375.3 522.5,372.6 524.2,369.9 527.1,367.1 531.3,364.3 623.9,309.8 633.2,305.1 642.5,301.7 651.7,299.7 660.9,299.1 670.1,299.8 679.3,302.0 688.5,305.5 697.7,310.5 786.7,365.0 792.7,369.1 796.9,373.2 799.3,377.2 800.0,381.1 800.0,394.6 799.0,398.4 796.2,402.2 791.7,405.9 785.4,409.5 679.1,462.7 675.8,464.1 672.4,465.2 669.1,465.8 665.7,466.0 662.4,465.7 659.1,465.1 655.7,464.0 652.4,462.4 531.8,399.2 527.5,396.6 524.5,394.1 522.6,391.4 521.9,388.8" fill="#2546c4" />
<polygon points="531.8,385.7 527.5,383.1 524.4,380.5 522.6,377.9 521.9,375.3 522.4,372.6 524.2,369.9 527.1,367.1 531.3,364.3 623.9,309.8 633.2,305.0 642.4,301.7 651.7,299.7 660.9,299.1 670.1,299.8 679.3,302.0 688.5,305.5 697.7,310.5 786.7,365.0 792.7,369.1 796.9,373.2 799.3,377.2 800.0,381.1 799.0,384.9 796.2,388.7 791.7,392.4 785.4,396.0 679.1,449.2 675.8,450.7 672.4,451.7 669.1,452.3 665.7,452.5 662.4,452.2 659.1,451.6 655.7,450.5 652.4,448.9" fill="#0f7cee" />
</svg>
<div class="t ttl" id="ttl" style="left:578.5px;top:358.3px;letter-spacing:0.2px"><span style="display:inline-block;transform:scaleX(1.1);transform-origin:0 50%">A</span><span style="margin-left:2.2px">IO</span></div>
<div class="t ttl" id="ttl2" style="left:642.3px;top:358.3px;letter-spacing:-0.4px">Oup<span style="margin-left:-3.4px">ıı</span><span style="margin-left:3.2px">s</span></div>
<div class="t lab" id="l1" style="left:517.5px;top:176.8px;letter-spacing:-0.47px">Reemıvroıneofiisleluia Nəao</div>
<div class="t lab" id="l2" style="left:517.5px;top:215.3px;letter-spacing:0.34px">Rpımhrfiiyu'toreierwabe</div>
<div class="t lab" id="l3" style="left:517.5px;top:237.3px;letter-spacing:-0.07px">oconantı/rurıo cbeoreıats</div>
<div class="t lab2" id="l4" style="left:592px;top:526.2px;letter-spacing:0.07px">Kahgrnerı əlenııtə Kuıtiang</div>
<div class="t lab2" id="l5" style="left:592px;top:569.5px;letter-spacing:-0.3px">Fásnəcatı› hlıoo› ɢtvioname</div>
</body></html>
